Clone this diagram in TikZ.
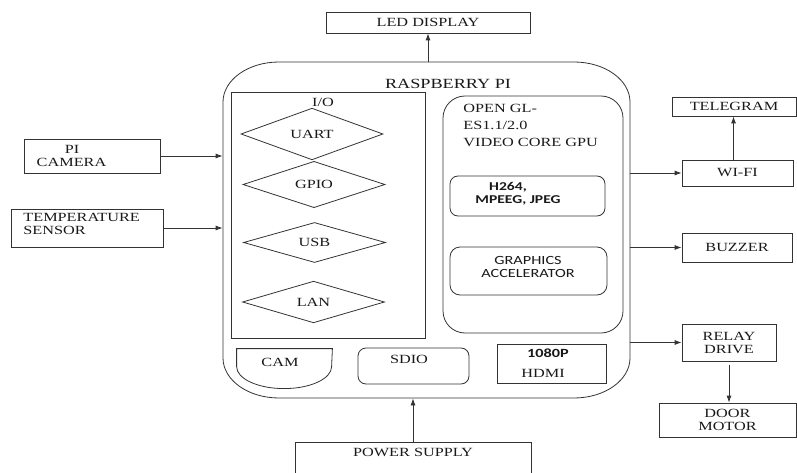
\documentclass[tikz,border=0pt]{standalone}
\usepackage{fontspec}
\setmainfont{Liberation Serif}[FakeStretch=1.3]
\newfontfamily\gpufont{Carlito}[FakeStretch=1.3]
\usetikzlibrary{positioning}
\usetikzlibrary{arrows.meta}
\usetikzlibrary{shapes.geometric}
\tikzset{>={Latex[width=5pt,length=7pt]}}
\tikzset{
  blk/.style={draw, inner sep=0pt, align=center},
  port/.style={diamond, draw, inner sep=0pt, minimum width=142pt, minimum height=36pt},
  sanslbl/.style={align=center, font=\gpufont\fontsize{12.5}{13}\selectfont},
}

\begin{document}
\begin{tikzpicture}[x=1pt, y=-1pt, line width=0.8pt, color=black!80, text=black!90,
  font=\fontsize{12.5}{13}\selectfont]
\useasboundingbox (0,0) rectangle (797,473);

% main board
\node (RPI) [minimum width=407pt, minimum height=336pt] at (426.5,230) {};
\draw (279,62) -- (574,62) arc[start angle=90, end angle=0, x radius=56pt, y radius=40pt]
  -- (630,358) arc[start angle=0, end angle=-90, x radius=56pt, y radius=40pt]
  -- (279,398) arc[start angle=-90, end angle=-180, x radius=56pt, y radius=40pt]
  -- (223,102) arc[start angle=180, end angle=90, x radius=56pt, y radius=40pt] -- cycle;
\node (RPIt) [font=\fontsize{14}{16}\selectfont] at (448,84) {RASPBERRY PI};

% I/O block
\node (IO) [draw, minimum width=194pt, minimum height=246pt] at (328,215) {};
\node (IOt) at (323,102) {I/O};
\node (UART) [port, minimum height=34pt] at (312,134) {UART};
\node (GPIO) [port] at (314,184.5) {GPIO};
\node (USB) [port, minimum height=39pt] at (314.5,242.5) {USB};
\node (LAN) [port, minimum height=38pt] at (313.5,302) {LAN};

% GPU block
\node (GPU) [draw, rounded corners=22pt, minimum width=180pt, minimum height=237pt] at (533,214.5) {};
\node (GPUt) [anchor=north west, align=left, inner sep=0pt, font=\fontsize{12.5}{17}\selectfont] at (463,104) {OPEN GL-\\ES1.1/2.0\\VIDEO CORE GPU};
\node (H264) [draw, rounded corners=8pt, minimum width=155pt, minimum height=40pt] at (527.5,196) {};
\node (H264a) [sanslbl, font=\gpufont\bfseries\fontsize{12}{13}\selectfont] at (508,187.5) {H264,};
\node (H264b) [sanslbl, font=\gpufont\bfseries\fontsize{12}{13}\selectfont] at (518,200.5) {MPEEG, JPEG};
\node (GFX) [draw, rounded corners=10pt, minimum width=157pt, minimum height=48pt] at (528.5,271) {};
\node (GFXt) [sanslbl] at (528,266.5) {GRAPHICS\\ACCELERATOR};

% bottom row
\node (CAM) [minimum width=95pt, minimum height=40pt, inner sep=0pt] at (284.5,369) {};
\draw (CAM.north east) -- (CAM.north west) -- ++(0,18)
  arc[start angle=180, end angle=270, x radius=47.5pt, y radius=22pt]
  arc[start angle=270, end angle=360, x radius=47.5pt, y radius=22pt] -- cycle;
\node (CAMt) at (280,362) {CAM};
\node (SDIO) [draw, rounded corners=8pt, minimum width=111pt, minimum height=36pt] at (413.5,366) {};
\node (SDIOt) at (409,359) {SDIO};
\node (HDMI) [draw, minimum width=109pt, minimum height=39pt] at (551.5,363.5) {};
\node (HDMIa) [font=\gpufont\bfseries\fontsize{12.5}{13}\selectfont] at (548,353) {1080P};
\node (HDMIb) at (543,373) {HDMI};

% peripherals
\node (LED) [blk, minimum width=204pt, minimum height=21pt] at (428,22.5) {LED DISPLAY};
\node (PICAM) [blk, minimum width=136pt, minimum height=34pt] at (92,156) {};
\node (PICAMa) at (72,149.5) {PI};
\node (PICAMb) at (71.5,162) {CAMERA};
\node (TEMP) [blk, minimum width=152pt, minimum height=38pt] at (87,228) {};
\node (TEMPt) [anchor=west, align=left, inner sep=0pt] at (23,224) {TEMPERATURE\\SENSOR};
\node (TELE) [blk, minimum width=124pt, minimum height=19pt] at (734,106.5) {TELEGRAM};
\node (WIFI) [blk, minimum width=111pt, minimum height=26pt] at (737.5,173) {WI-FI};
\node (BUZ) [blk, minimum width=110pt, minimum height=29pt] at (737,247.5) {BUZZER};
\node (RELAY) [blk, minimum width=94pt, minimum height=37pt] at (729,342.5) {RELAY\\DRIVE};
\node (DOOR) [blk, minimum width=137pt, minimum height=34pt] at (727.5,420) {DOOR\\MOTOR};
\node (PWR) [blk, minimum width=236pt, anchor=north, text height=9pt, text depth=22pt, inner ysep=5pt] at (413,442) {POWER SUPPLY};

% connections
\path [draw, ->] (RPI.north -| LED.south) -- (LED.south);
\path [draw, ->] (PICAM.east) -- (PICAM.east -| RPI.west);
\path [draw, ->] (TEMP.east) -- (TEMP.east -| RPI.west);
\path [draw, ->] (RPI.east |- WIFI.west) -- (WIFI.west);
\path [draw, ->] (RPI.east |- BUZ.west) -- (BUZ.west);
\path [draw, ->] (RPI.east |- RELAY.west) -- (RELAY.west);
\path [draw, ->] ([xshift=-4pt]WIFI.north) -- ([xshift=-4pt]WIFI.north |- TELE.south);
\path [draw, ->] ([yshift=-4pt]RELAY.south) -- (RELAY.south |- DOOR.north);
\path [draw, ->] (PWR.north) -- (PWR.north |- RPI.south);
\end{tikzpicture}
\end{document}
